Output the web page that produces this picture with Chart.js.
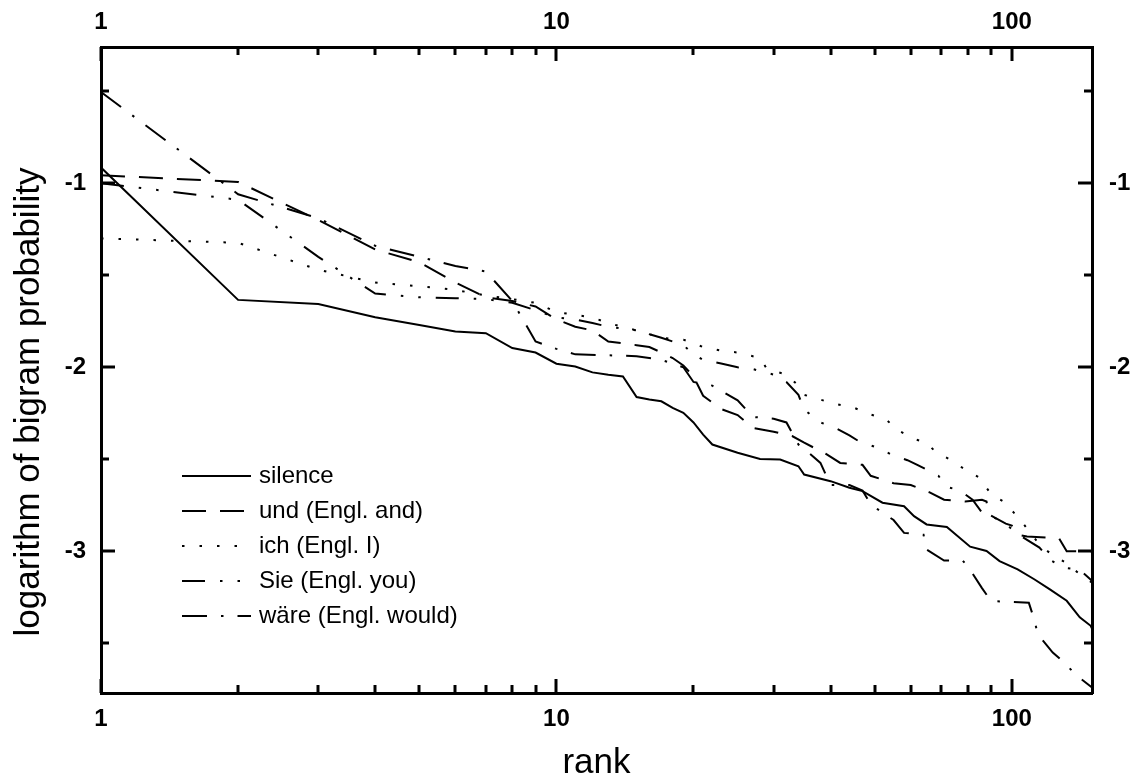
<!DOCTYPE html>
<html lang="de">
<head>
<meta charset="UTF-8">
<title>Bigram probability by rank</title>
<script src="https://cdn.jsdelivr.net/npm/chart.js@4.4.1/dist/chart.umd.min.js"></script>
<style>
  html, body { margin: 0; padding: 0; background: #fff; }
  #wrap { width: 1138px; height: 784px; }
</style>
</head>
<body>
<div id="wrap"><canvas id="chart" width="1138" height="784"></canvas></div>
<script>
// values (rank, log10 probability)
const silenceRank = [1,2,3,4,5,6,7,8,9,10,11,12,13,14,15,16,17,18,19,20,21,22,25,28,31,34,35,40,44,47,52,58,61,65,72,81,88,94,103,112,121,132,141,149,150];
const silenceVal  = [-0.915,-1.634,-1.656,-1.728,-1.770,-1.806,-1.815,-1.896,-1.920,-1.981,-1.996,-2.028,-2.041,-2.050,-2.162,-2.175,-2.185,-2.221,-2.248,-2.300,-2.366,-2.420,
                     -2.465,-2.498,-2.501,-2.538,-2.583,-2.619,-2.655,-2.673,-2.736,-2.755,-2.809,-2.854,-2.868,-2.975,-2.998,-3.053,-3.098,-3.152,-3.206,-3.269,-3.359,-3.405,-3.420];

const undRank = [1,2,3,4,5,6,7,8,9,10,11,12,13,14,15,16,17,18,19,20,21,23,25,27,30,33,35,39,42,47,49,55,60,66,71,79,86,88,89,97,100,103,108,127,132,146,150];
const undVal  = [-0.957,-0.993,-1.20,-1.36,-1.43,-1.54,-1.62,-1.64,-1.67,-1.74,-1.78,-1.80,-1.86,-1.87,-1.88,-1.89,-1.92,-1.95,-1.99,-2.05,-2.155,-2.227,-2.26,-2.33,-2.35,-2.375,-2.41,-2.47,-2.52,-2.53,-2.59,-2.63,-2.64,-2.68,-2.72,-2.73,-2.72,-2.73,-2.80,-2.85,-2.86,-2.91,-2.92,-2.93,-3.00,-3.00,-3.00];

const ichRank = [1,2,3,4,5,6,7,8,9,10,11,12,13,15,17,19,21,23,25,28,29,32,34,35,41,45,49,53,56,61,65,68,73,79,85,90,96,101,106,116,123,131,142,150];
const ichVal  = [-1.30,-1.324,-1.47,-1.54,-1.56,-1.58,-1.61,-1.63,-1.65,-1.70,-1.715,-1.73,-1.76,
                 -1.80,-1.84,-1.85,-1.89,-1.91,-1.92,-1.95,-2.01,-2.04,-2.10,-2.15,-2.20,-2.22,-2.257,-2.284,-2.34,-2.39,-2.41,-2.46,-2.50,-2.556,-2.60,-2.69,-2.73,-2.79,-2.85,-2.975,-3.02,-3.06,-3.13,-3.17];

const sieRank = [1,2,3,4,5,6,7,8,9,10,11,12,13,14,15,16,17,18,19,20,21,23,25,27,30,32,34,35,38,41,44,46,51,55,59,62,69,72,77,82,86,96,102,115,122,130,141,150];
const sieVal  = [-1.00,-1.09,-1.40,-1.60,-1.62,-1.625,-1.63,-1.65,-1.69,-1.73,-1.74,-1.76,-1.78,-1.79,-1.80,-1.82,-1.84,-1.86,-1.88,-1.93,-1.96,
                 -1.98,-2.00,-2.01,-2.04,-2.08,-2.15,-2.23,-2.30,-2.33,-2.37,-2.40,-2.44,-2.48,-2.505,-2.53,-2.59,-2.65,-2.67,-2.72,-2.79,-2.84,-2.90,-2.98,-3.05,-3.09,-3.10,-3.16];

const waereRank = [1,2,3,4,5,6,7,8,9,10,11,13,15,17,18,19,20,21,22,25,27,30,32,34,36,38,40,44,47,49,52,55,58,64,65,71,78,81,86,90,109,112,114,123,131,138,150];
const waereVal  = [-0.505,-1.06,-1.19,-1.34,-1.40,-1.45,-1.48,-1.64,-1.86,-1.90,-1.93,
                   -1.935,-1.94,-1.96,-1.98,-2.00,-2.08,-2.09,-2.10,-2.18,-2.27,-2.28,-2.30,-2.42,-2.47,-2.52,-2.64,-2.64,-2.67,-2.745,-2.79,-2.83,-2.90,-2.91,-2.99,-3.05,-3.05,-3.10,-3.20,-3.27,-3.28,-3.37,-3.45,-3.55,-3.61,-3.67,-3.74];

const seriesNames = ["silence", "und (Engl. and)", "ich (Engl. I)", "Sie (Engl. you)", "wäre (Engl. would)"];

const xMajor = [1, 10, 100];
const xMinor = [2,3,4,5,6,7,8,9,20,30,40,50,60,70,80,90];
const yMajor = [-1, -2, -3];
const yMinor = [-0.5, -1.5, -2.5, -3.5];

const xTitle = "rank";
const yTitle = "logarithm of bigram probability";

const FONT = "'Liberation Sans', Arial, sans-serif";

const pts = (r, v) => r.map((x, i) => ({ x: x, y: v[i] }));

function line(label, r, v, dash) {
  return {
    label: label,
    data: pts(r, v),
    showLine: true,
    borderColor: "#000",
    borderWidth: 2,
    borderDash: dash,
    pointRadius: 0,
    tension: 0,
    fill: false
  };
}

const datasets = [
  line(seriesNames[0], silenceRank, silenceVal, []),
  line(seriesNames[1], undRank, undVal, [24, 14]),
  line(seriesNames[2], ichRank, ichVal, [2.5, 15]),
  line(seriesNames[3], sieRank, sieVal, [23, 15, 2.5, 15, 2.5, 15]),
  line(seriesNames[4], waereRank, waereVal, [25, 14, 2.5, 14])
];

// inward ticks on all four sides of the frame
const frameTicks = {
  id: "frameTicks",
  afterDraw(chart) {
    const ctx = chart.ctx, a = chart.chartArea;
    const xs = chart.scales.x, ys = chart.scales.y;
    ctx.save();
    ctx.strokeStyle = "#000";
    ctx.lineWidth = 3;
    const mark = (x1, y1, x2, y2) => { ctx.beginPath(); ctx.moveTo(x1, y1); ctx.lineTo(x2, y2); ctx.stroke(); };
    xMajor.concat(xMinor).forEach(v => {
      const len = xMajor.includes(v) ? 14 : 8;
      const px = Math.round(xs.getPixelForValue(v));
      mark(px, a.bottom, px, a.bottom - len);
      mark(px, a.top, px, a.top + len);
    });
    yMajor.concat(yMinor).forEach(v => {
      const len = yMajor.includes(v) ? 14 : 8;
      const py = Math.round(ys.getPixelForValue(v));
      mark(a.left, py, a.left + len, py);
      mark(a.right, py, a.right - len, py);
    });
    ctx.restore();
  }
};

// y axis title sits a little below the middle of the frame in the original
const yAxisTitle = {
  id: "yAxisTitle",
  afterDraw(chart) {
    const ctx = chart.ctx;
    ctx.save();
    ctx.translate(29, 402);
    ctx.rotate(-Math.PI / 2);
    ctx.fillStyle = "#000";
    ctx.font = "35px " + FONT;
    ctx.textAlign = "center";
    ctx.textBaseline = "middle";
    ctx.fillText(yTitle, 0, 0);
    ctx.restore();
  }
};

// legend inside the plot, with line samples
const inlineLegend = {
  id: "inlineLegend",
  afterDatasetsDraw(chart) {
    const ctx = chart.ctx;
    chart.data.datasets.forEach((ds, i) => {
      const y = 476 + i * 35;
      ctx.save();
      ctx.strokeStyle = "#000";
      ctx.lineWidth = 2;
      ctx.setLineDash(ds.borderDash);
      ctx.beginPath();
      ctx.moveTo(182, y);
      ctx.lineTo(251, y);
      ctx.stroke();
      ctx.setLineDash([]);
      ctx.fillStyle = "#000";
      ctx.font = "24px " + FONT;
      ctx.textBaseline = "middle";
      ctx.fillText(ds.label, 259, y);
      ctx.restore();
    });
  }
};

const tickFont = { family: FONT, size: 24, weight: "bold" };
const titleFont = { family: FONT, size: 35 };
const border = { display: true, width: 3, color: "#000" };

function xScale(pos, size, pad, title) {
  return {
    type: "logarithmic", axis: "x", position: pos, min: 1, max: 150,
    afterBuildTicks: s => { s.ticks = xMajor.map(v => ({ value: v })); },
    afterFit: s => { s.height = size; },
    grid: { display: false },
    border: border,
    ticks: { padding: pad, autoSkip: false, maxRotation: 0, color: "#000", font: tickFont, callback: v => String(v) },
    title: title ? { display: true, text: title, color: "#000", font: titleFont, padding: { top: 0, bottom: 0 } } : { display: false }
  };
}

function yScale(pos, size, pad) {
  return {
    type: "linear", axis: "y", position: pos, min: -3.77, max: -0.26,
    afterBuildTicks: s => { s.ticks = yMajor.map(v => ({ value: v })); },
    afterFit: s => { s.width = size; },
    grid: { display: false },
    border: border,
    ticks: { padding: pad, autoSkip: false, color: "#000", font: tickFont, callback: v => String(v) }
  };
}

new Chart(document.getElementById("chart"), {
  type: "scatter",
  data: { datasets: datasets },
  options: {
    responsive: false,
    animation: false,
    layout: { padding: 0 },
    plugins: { legend: { display: false }, tooltip: { enabled: false } },
    scales: {
      x: xScale("bottom", 91, 4, xTitle),
      x2: xScale("top", 47, 2, null),
      y: yScale("left", 101, 7),
      y2: yScale("right", 46, 9)
    }
  },
  plugins: [frameTicks, yAxisTitle, inlineLegend]
});
</script>
</body>
</html>
